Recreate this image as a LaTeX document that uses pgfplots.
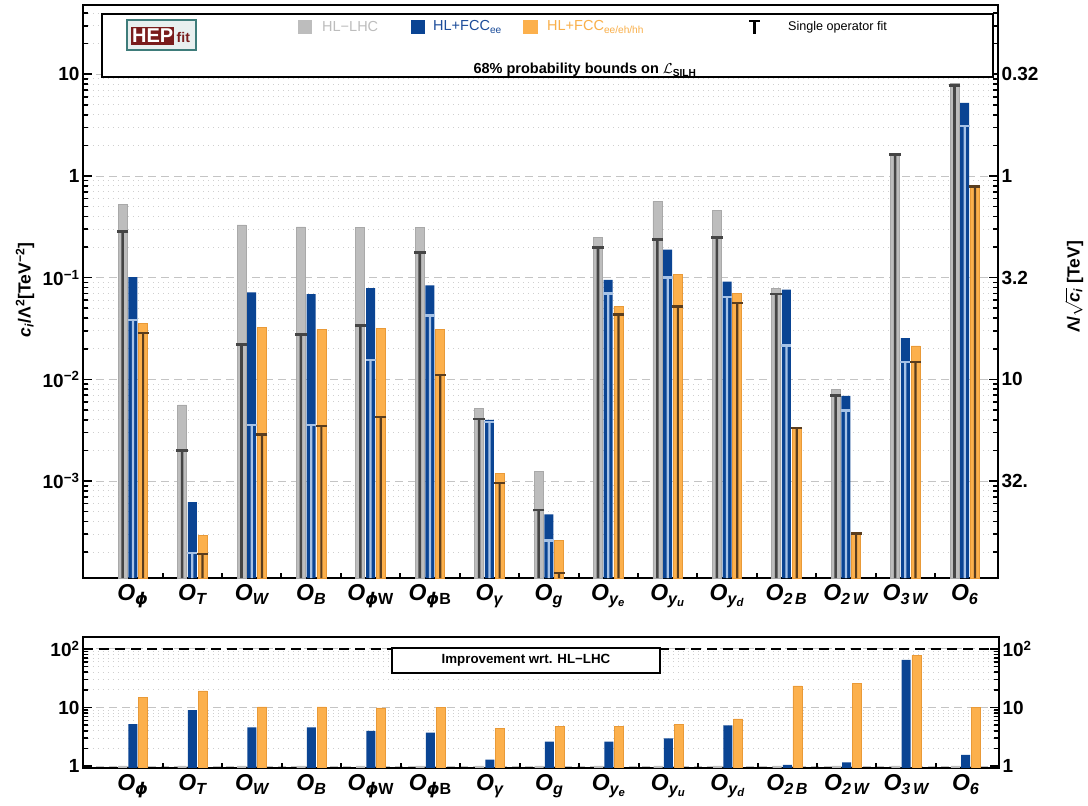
\documentclass[border=0pt]{standalone}
\usepackage{fontspec}
\setmainfont{Liberation Sans}
\newfontfamily\dvs{DejaVu Sans}
\usepackage{amsmath}
\usepackage{pgfplots}
\usepackage{pgfplotstable}
\pgfplotsset{compat=1.18}

\definecolor{hlgray}{HTML}{BDBDBD}
\definecolor{hlgrayedge}{HTML}{A9A9A9}
\definecolor{graystem}{HTML}{454545}
\definecolor{fccblue}{HTML}{0A4493}
\definecolor{bluestem}{HTML}{A6C2E6}
\definecolor{fccorange}{HTML}{FCB04C}
\definecolor{orangeedge}{HTML}{E99A38}
\definecolor{orangestem}{HTML}{5A3D1E}
\definecolor{legblue}{HTML}{1B4C9A}
\definecolor{legorange}{HTML}{F9AF4A}
\definecolor{hepred}{HTML}{7A1C1C}
\definecolor{hepteal}{HTML}{3E7C7A}
\definecolor{gridmaj}{HTML}{C4C4C4}
\definecolor{gridmin}{HTML}{CFCFCF}

\pgfplotstableread{
idx gT      gS      bT      bS      oT      oS
0   0.527   0.283   0.101   0.0384  0.0356  0.0286
1   0.0056  0.00201 6.22e-4 1.95e-4 2.9e-4  1.92e-4
2   0.33    0.0221  0.0718  0.00356 0.0323  0.00286
3   0.315   0.0275  0.069   0.00356 0.031   0.0035
4   0.313   0.0337  0.079   0.0155  0.032   0.00427
5   0.313   0.178   0.084   0.0423  0.031   0.011
6   0.0052  0.00408 0.0040  0.00381 0.00118 9.58e-4
7   0.00124 5.2e-4  4.71e-4 2.6e-4  2.6e-4  1.24e-4
8   0.249   0.199   0.095   0.070   0.0519  0.0436
9   0.564   0.237   0.189   0.100   0.108   0.0523
10  0.456   0.248   0.0914  0.0646  0.0702  0.0564
11  0.079   0.069   0.0762  0.0215  0.0034  0.00334
12  0.00798 0.00697 0.00687 0.00492 3.11e-4 3.05e-4
13  1.66    1.64    0.0255  0.0148  0.0213  0.0148
14  8.15    7.8     5.22    3.1     0.797   0.79
}\topdata

\pgfplotstableread{
idx g   b     o
0   1   5.2   14.8
1   1   9.0   19.2
2   1   4.55  10.2
3   1   4.55  10.2
4   1   4.0   9.8
5   1   3.7   10.1
6   1   1.28  4.4
7   1   2.6   4.7
8   1   2.6   4.8
9   1   2.97  5.1
10  1   4.95  6.4
11  1   1.04  23.3
12  1   1.15  25.8
13  1   65    78
14  1   1.55  10.1
}\impdata

\begin{document}
\begin{tikzpicture}
\useasboundingbox (0,0) rectangle (1088pt,806pt);

% ---------------- top panel ----------------
\begin{axis}[
  scale only axis, at={(83pt,228pt)}, anchor=south west, width=915pt, height=573pt,
  xmin=-0.84, xmax=14.56,
  ymode=log, ymin=1.114e-4, ymax=48, log origin=infty,
  tick align=inside,
  axis line style={line width=2.2pt},
  major tick length=9pt, minor tick length=5pt,
  tick style={black, line width=1.6pt},
  yticklabel style={font=\bfseries\fontsize{19}{21}\selectfont},
  ytick={1e-3,1e-2,1e-1,1,10},
  yticklabels={10\textsuperscript{−3},10\textsuperscript{−2},10\textsuperscript{−1},1,10},
  minor ytick={2e-4,3e-4,4e-4,5e-4,6e-4,7e-4,8e-4,9e-4,2e-3,3e-3,4e-3,5e-3,6e-3,7e-3,8e-3,9e-3,0.02,0.03,0.04,0.05,0.06,0.07,0.08,0.09,0.2,0.3,0.4,0.5,0.6,0.7,0.8,0.9,2,3,4,5,6,7,8,9,20,30,40},
  xtick={0,...,14},
  xticklabels={O\textsubscript{{\dvs ϕ}},O\textsubscript{T},O\textsubscript{W},O\textsubscript{B},O\textsubscript{{\dvs ϕ}\textup{W}},O\textsubscript{{\dvs ϕ}\textup{B}},O\textsubscript{γ},O\textsubscript{g},O\textsubscript{y\textsubscript{e}},O\textsubscript{y\textsubscript{u}},O\textsubscript{y\textsubscript{d}},O\textsubscript{2\,B},O\textsubscript{2\,W},O\textsubscript{3\,W},O\textsubscript{6}},
  xticklabel style={font=\bfseries\itshape\fontsize{23}{25}\selectfont, yshift=-3pt},
  major x tick style={draw=none},
  minor xtick={0.5,1.5,2.5,3.5,4.5,5.5,6.5,7.5,8.5,9.5,10.5,11.5,12.5,13.5},
  minor x tick style={line width=2pt},
  xtick pos=left, ytick pos=left,
  ymajorgrids, yminorgrids,
  major grid style={gridmaj, line width=0.9pt, dash pattern=on 8pt off 5pt},
  minor grid style={gridmin, line width=0.9pt, dash pattern=on 1pt off 4pt},
]
\addplot[ybar, bar width=9pt, bar shift=0pt, fill=hlgray, draw=hlgrayedge, line width=0.8pt]
  table[x expr=\thisrow{idx}-0.172, y=gT] \topdata;
\addplot[ybar, bar width=2.6pt, bar shift=0pt, fill=graystem, draw=none]
  table[x expr=\thisrow{idx}-0.172, y=gS] \topdata;
\addplot[only marks, mark=-, mark size=5.8pt, mark options={draw=graystem, line width=2.8pt}]
  table[x expr=\thisrow{idx}-0.172, y=gS] \topdata;
\addplot[ybar, bar width=9pt, bar shift=0pt, fill=fccblue, draw=none]
  table[x expr=\thisrow{idx}, y=bT] \topdata;
\addplot[ybar, bar width=2.2pt, bar shift=0pt, fill=bluestem, draw=none]
  table[x expr=\thisrow{idx}, y=bS] \topdata;
\addplot[only marks, mark=-, mark size=5pt, mark options={draw=bluestem, line width=2.4pt}]
  table[x expr=\thisrow{idx}, y=bS] \topdata;
\addplot[ybar, bar width=9pt, bar shift=0pt, fill=fccorange, draw=orangeedge, line width=0.6pt]
  table[x expr=\thisrow{idx}+0.172, y=oT] \topdata;
\addplot[ybar, bar width=2.2pt, bar shift=0pt, fill=orangestem, draw=none]
  table[x expr=\thisrow{idx}+0.172, y=oS] \topdata;
\addplot[only marks, mark=-, mark size=5.5pt, mark options={draw=orangestem, line width=2.4pt}]
  table[x expr=\thisrow{idx}+0.172, y=oS] \topdata;
\end{axis}

\begin{axis}[
  scale only axis, at={(83pt,228pt)}, anchor=south west, width=915pt, height=573pt,
  xmin=-0.84, xmax=14.56,
  ymode=log, ymin=1.114e-4, ymax=48,
  axis x line=none, axis y line*=right,
  tick align=inside,
  axis line style={line width=2.2pt},
  major tick length=9pt, minor tick length=5pt,
  tick style={black, line width=1.6pt},
  yticklabel style={font=\bfseries\fontsize{19}{21}\selectfont},
  ytick={1e-3,1e-2,1e-1,1,10},
  yticklabels={32.,10,3.2,1,0.32},
  minor ytick={2e-4,3e-4,4e-4,5e-4,6e-4,7e-4,8e-4,9e-4,2e-3,3e-3,4e-3,5e-3,6e-3,7e-3,8e-3,9e-3,0.02,0.03,0.04,0.05,0.06,0.07,0.08,0.09,0.2,0.3,0.4,0.5,0.6,0.7,0.8,0.9,2,3,4,5,6,7,8,9,20,30,40},
]
\addplot[draw=none] coordinates {(0,1)};
\end{axis}

% ---------------- bottom panel ----------------
\begin{axis}[
  scale only axis, at={(83pt,38pt)}, anchor=south west, width=916pt, height=131pt,
  xmin=-0.84, xmax=14.56,
  ymode=log, ymin=0.924, ymax=160, log origin=infty,
  tick align=inside,
  axis line style={line width=2.2pt},
  major tick length=9pt, minor tick length=5pt,
  tick style={black, line width=1.6pt},
  yticklabel style={font=\bfseries\fontsize{19}{21}\selectfont},
  ytick={1,10,100},
  yticklabels={1,10,10\textsuperscript{2}},
  minor ytick={2,3,4,5,6,7,8,9,20,30,40,50,60,70,80,90},
  xtick={0,...,14},
  xticklabels={O\textsubscript{{\dvs ϕ}},O\textsubscript{T},O\textsubscript{W},O\textsubscript{B},O\textsubscript{{\dvs ϕ}\textup{W}},O\textsubscript{{\dvs ϕ}\textup{B}},O\textsubscript{γ},O\textsubscript{g},O\textsubscript{y\textsubscript{e}},O\textsubscript{y\textsubscript{u}},O\textsubscript{y\textsubscript{d}},O\textsubscript{2\,B},O\textsubscript{2\,W},O\textsubscript{3\,W},O\textsubscript{6}},
  xticklabel style={font=\bfseries\itshape\fontsize{23}{25}\selectfont, yshift=-3pt},
  major x tick style={draw=none},
  minor xtick={0.5,1.5,2.5,3.5,4.5,5.5,6.5,7.5,8.5,9.5,10.5,11.5,12.5,13.5},
  minor x tick style={line width=2pt},
  xtick pos=left, ytick pos=left,
  ymajorgrids, yminorgrids,
  major grid style={gridmaj, line width=0.9pt, dash pattern=on 8pt off 5pt},
  minor grid style={gridmin, line width=0.9pt, dash pattern=on 1pt off 4pt},
]
\addplot[black, line width=1.8pt, dash pattern=on 10pt off 6pt] coordinates {(-0.84,100) (14.56,100)};
\addplot[ybar, bar width=9pt, bar shift=0pt, fill=hlgray, draw=none]
  table[x expr=\thisrow{idx}-0.172, y=g] \impdata;
\addplot[ybar, bar width=9pt, bar shift=0pt, fill=fccblue, draw=none]
  table[x expr=\thisrow{idx}, y=b] \impdata;
\addplot[ybar, bar width=9pt, bar shift=0pt, fill=fccorange, draw=orangeedge, line width=0.6pt]
  table[x expr=\thisrow{idx}+0.172, y=o] \impdata;
\end{axis}

\begin{axis}[
  scale only axis, at={(83pt,38pt)}, anchor=south west, width=916pt, height=131pt,
  xmin=-0.84, xmax=14.56,
  ymode=log, ymin=0.924, ymax=160,
  axis x line=none, axis y line*=right,
  tick align=inside,
  axis line style={line width=2.2pt},
  major tick length=9pt, minor tick length=5pt,
  tick style={black, line width=1.6pt},
  yticklabel style={font=\bfseries\fontsize{19}{21}\selectfont},
  ytick={1,10,100},
  yticklabels={1,10,10\textsuperscript{2}},
  minor ytick={2,3,4,5,6,7,8,9,20,30,40,50,60,70,80,90},
]
\addplot[draw=none] coordinates {(0,1)};
\end{axis}

% ---------------- legend box ----------------
\draw[line width=2pt, fill=white] (102pt,729pt) rectangle (993pt,792pt);
\draw[hepteal, line width=1.8pt, fill=hepteal!12] (127pt,756pt) rectangle (196pt,786pt);
\node[fill=hepred, text=white, font=\bfseries\fontsize{20}{20}\selectfont, inner xsep=1pt, inner ysep=2pt, anchor=base west] at (131pt,763pt) {HEP};
\node[text=hepred, font=\bfseries\fontsize{14}{14}\selectfont, inner sep=0pt, anchor=base west] at (176.5pt,763pt) {fit};
\fill[hlgray] (298pt,772pt) rectangle (312pt,786pt);
\node[anchor=west, inner sep=0pt, text=hlgray, font=\fontsize{14.5}{16}\selectfont] at (322pt,779pt) {HL−LHC};
\fill[fccblue] (411pt,772pt) rectangle (425pt,786pt);
\node[anchor=west, inner sep=0pt, text=legblue, font=\fontsize{14.5}{16}\selectfont] at (433pt,779pt) {HL+FCC\textsubscript{ee}};
\fill[fccorange] (523pt,772pt) rectangle (538pt,786pt);
\node[anchor=west, inner sep=0pt, text=legorange, font=\fontsize{14.5}{16}\selectfont] at (547pt,779pt) {HL+FCC\textsubscript{ee/eh/hh}};
\draw[line width=2.2pt] (749pt,785pt) -- (760pt,785pt);
\draw[line width=2.2pt] (754.5pt,785pt) -- (754.5pt,772pt);
\node[anchor=west, inner sep=0pt, font=\fontsize{12.6}{14}\selectfont] at (788pt,779pt) {Single operator fit};
\node[anchor=base, inner sep=0pt, font=\bfseries\fontsize{14.5}{16}\selectfont] at (585pt,732pt) {68\% probability bounds on \(\mathcal{L}\)\textsubscript{SILH}};

\node[draw, line width=2pt, fill=white, minimum width=268pt, minimum height=25pt, inner sep=0pt, font=\bfseries\fontsize{13.3}{15}\selectfont] at (526pt,145.5pt) {Improvement wrt. HL−LHC};

\node[rotate=90, font=\bfseries\fontsize{17.5}{19}\selectfont] at (25pt,516pt) {\textit{c}\textsubscript{\textit{i}}/Λ\textsuperscript{2}[TeV\textsuperscript{−2}]};
\node[rotate=90, font=\bfseries\fontsize{17.5}{19}\selectfont] at (1074pt,519pt) {Λ/\(\sqrt{\vphantom{\text{\bfseries T}}\text{\bfseries\itshape c}_{\text{\bfseries\itshape i}}}\) [TeV]};
\end{tikzpicture}
\end{document}
